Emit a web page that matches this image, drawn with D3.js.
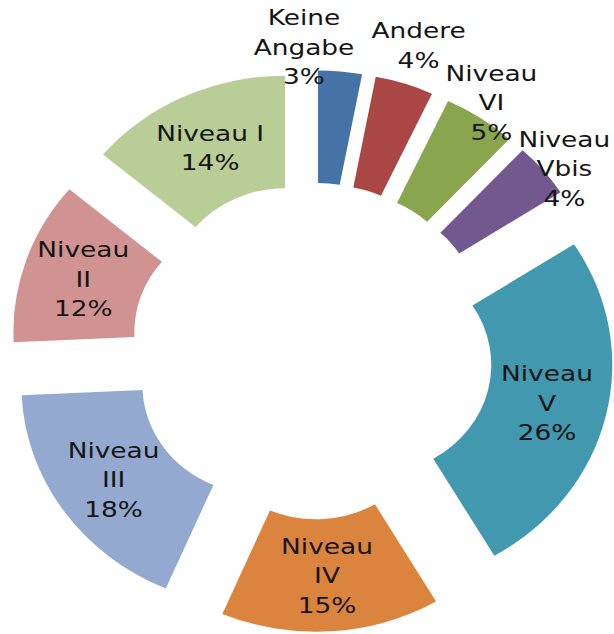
<!DOCTYPE html>
<html>
<head>
<meta charset="utf-8">
<script src="https://cdn.jsdelivr.net/npm/d3@7"></script>
<style>
    body { margin: 0; background: #fff; }
    text { font-family: "DejaVu Sans", Verdana, sans-serif; font-size: 22px; fill: #151515; }
</style>
</head>
<body>
<div id="chart"></div>
<script>
// doughnut data, clockwise from 12 o'clock
var categories = ["Keine Angabe", "Andere", "Niveau VI", "Niveau Vbis", "Niveau V", "Niveau IV", "Niveau III", "Niveau II", "Niveau I"];
var percents = [3, 4, 5, 4, 26, 15, 18, 12, 14];
var nameLines = [["Keine", "Angabe"], ["Andere"], ["Niveau", "VI"], ["Niveau", "Vbis"], ["Niveau", "V"], ["Niveau", "IV"], ["Niveau", "III"], ["Niveau", "II"], ["Niveau I"]];
var colors = ["#4572A7", "#AA4643", "#89A54E", "#71588F", "#4198AF", "#DB843D", "#93A9CF", "#D19392", "#B9CD96"];

var cx = 312, cy = 351, sy = 0.93;
var rIn = 117, rOut = 238, explode = 64, rLabel = 258;
// small shifts for the outside labels so they don't collide
var nudge = {"Keine Angabe": [-38, -6], "Andere": [8, -21], "Niveau Vbis": [6, 10]};

var svg = d3.select("#chart").append("svg")
    .attr("width", 614)
    .attr("height", 634);

var pie = d3.pie().sort(null);
var arcs = pie(percents);
var arc = d3.arc().innerRadius(rIn).outerRadius(rOut);

function mid(d) { return (d.startAngle + d.endAngle) / 2; }

var ring = svg.append("g")
    .attr("transform", "translate(" + cx + "," + cy + ") scale(1," + sy + ")");

ring.selectAll("path")
    .data(arcs)
    .enter()
    .append("path")
    .attr("d", arc)
    .attr("transform", function(d){
        var a = mid(d);
        return "translate(" + explode * Math.sin(a) + "," + (-explode * Math.cos(a)) + ")";
    })
    .attr("fill", function(d, i){ return colors[i]; });

arcs.forEach(function(d, i){
    var a = mid(d);
    var inside = percents[i] > 5;
    var r = explode + (inside ? (rIn + rOut) / 2 : rLabel);
    var n = nudge[categories[i]] || [0, 0];
    var x = cx + r * Math.sin(a) + n[0];
    var y = cy - sy * r * Math.cos(a) + n[1];
    var lines = nameLines[i].concat([percents[i] + "%"]);
    var t = svg.append("text")
        .attr("transform", "translate(" + x + "," + y + ") scale(1.2,1)")
        .attr("text-anchor", "middle");
    lines.forEach(function(s, k){
        t.append("tspan")
            .attr("x", 0)
            .attr("y", (k - (lines.length - 1) / 2) * 29.5 + 8)
            .text(s);
    });
});
</script>
</body>
</html>
